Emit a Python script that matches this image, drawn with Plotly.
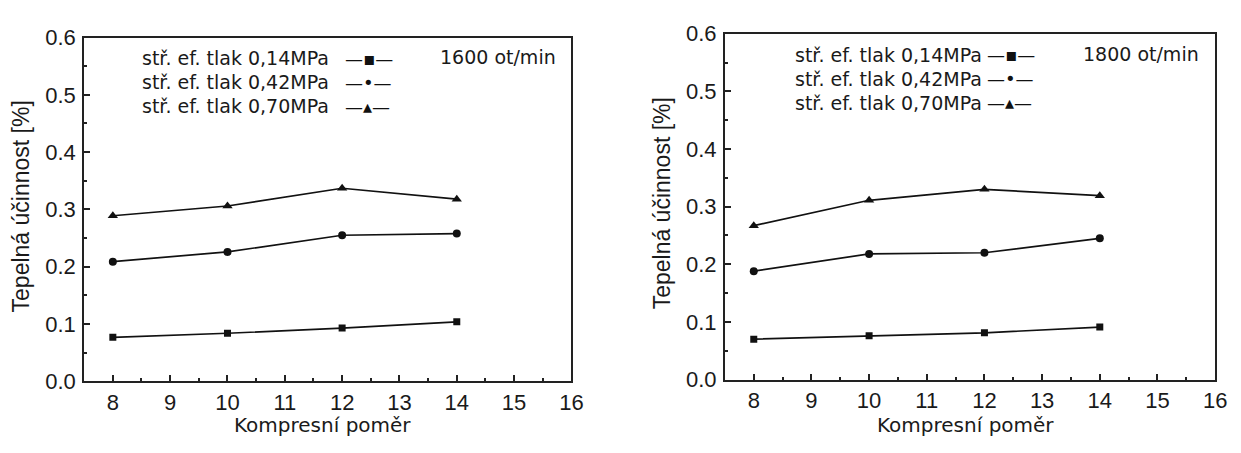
import plotly.graph_objects as go

# ---------------- data ----------------
ratio = [8, 10, 12, 14]
series_names = ["stř. ef. tlak 0,14MPa", "stř. ef. tlak 0,42MPa", "stř. ef. tlak 0,70MPa"]
symbols = ["square", "circle", "triangle-up"]
legend_glyphs = ["—▪—", "—•—", "—▴—"]

eff_1600_p014 = [0.077, 0.084, 0.093, 0.104]
eff_1600_p042 = [0.209, 0.226, 0.255, 0.258]
eff_1600_p070 = [0.289, 0.306, 0.337, 0.318]

eff_1800_p014 = [0.070, 0.076, 0.081, 0.091]
eff_1800_p042 = [0.188, 0.218, 0.220, 0.245]
eff_1800_p070 = [0.267, 0.311, 0.330, 0.319]

panel_labels = ["1600 ot/min", "1800 ot/min"]
x_title = "Kompresní poměr"
y_title = "Tepelná účinnost [%]"
x_ticks = [8, 9, 10, 11, 12, 13, 14, 15, 16]
y_ticks = [0.0, 0.1, 0.2, 0.3, 0.4, 0.5, 0.6]

panels = [
    [eff_1600_p014, eff_1600_p042, eff_1600_p070],
    [eff_1800_p014, eff_1800_p042, eff_1800_p070],
]

W, H = 1241, 453
# plot frames in pixels (left, right, top, bottom)
frames = [(85, 577, 27, 391), (732, 1227, 23, 389)]
marker_sizes = [7, 8, 9]

fig = go.Figure()

for p, series in enumerate(panels):
    xa = "x" if p == 0 else "x2"
    ya = "y" if p == 0 else "y2"
    for s, vals in enumerate(series):
        fig.add_trace(go.Scatter(
            x=ratio, y=vals, mode="lines+markers", xaxis=xa, yaxis=ya,
            line=dict(color="#111", width=1.7),
            marker=dict(symbol=symbols[s], size=marker_sizes[s], color="#111"),
            showlegend=False, name=series_names[s],
        ))

tickfont = dict(family="Liberation Sans, Arial", size=22, color="#1a1a1a")
text_font = dict(family="DejaVu Sans", size=19, color="#1a1a1a")

def xaxis_cfg(domain):
    return dict(domain=domain, range=[7.5, 16], tickvals=x_ticks, ticks="inside",
                ticklen=6, tickwidth=1.5, tickcolor="#222",
                minor=dict(ticks="inside", dtick=0.5, tick0=8, ticklen=3, tickwidth=1.5, tickcolor="#222"),
                showline=True, linewidth=2, linecolor="#222", mirror=True,
                showgrid=False, zeroline=False, tickfont=tickfont, fixedrange=True)

def yaxis_cfg(domain, anchor):
    return dict(domain=domain, range=[0, 0.6], tickvals=y_ticks, tickformat=".1f",
                ticks="inside", ticklen=6, tickwidth=1.5, tickcolor="#222",
                minor=dict(ticks="inside", dtick=0.05, tick0=0, ticklen=3, tickwidth=1.5, tickcolor="#222"),
                showline=True, linewidth=2, linecolor="#222", mirror=True,
                showgrid=False, zeroline=False, tickfont=tickfont, anchor=anchor,
                ticklabelstandoff=2, fixedrange=True)

doms = []
for (l, r, t, b) in frames:
    doms.append(([l / W, r / W], [1 - b / H, 1 - t / H]))

annotations = []
for p, (l, r, t, b) in enumerate(frames):
    cx = (l + r) / 2
    # x title
    annotations.append(dict(x=cx / W - 0.004, y=1 - 437 / H, xref="paper", yref="paper",
                            text=x_title, showarrow=False, font=dict(family="DejaVu Sans", size=20, color="#1a1a1a"),
                            xanchor="center", yanchor="middle"))
    # y title
    annotations.append(dict(x=(l - 64) / W, y=1 - ((t + b) / 2 - 3) / H, xref="paper", yref="paper",
                            text=y_title, showarrow=False, textangle=-90,
                            font=dict(family="Liberation Sans, Arial", size=23, color="#1a1a1a"),
                            xanchor="center", yanchor="middle"))
    # legend rows (text followed by line/marker sample)
    for s in range(3):
        yrow = t + 22 + 25.5 * s
        annotations.append(dict(x=(l + 249 if p == 0 else l + 262) / W, y=1 - yrow / H,
                                xref="paper", yref="paper", text=series_names[s],
                                showarrow=False, font=text_font, xanchor="right", yanchor="middle"))
        annotations.append(dict(x=(l + 261 if p == 0 else l + 263) / W, y=1 - yrow / H,
                                xref="paper", yref="paper", text=legend_glyphs[s],
                                showarrow=False, font=dict(family="DejaVu Sans", size=18, color="#111"),
                                xanchor="left", yanchor="middle"))
    # panel label
    annotations.append(dict(x=(r - 14) / W, y=1 - (t + 21) / H, xref="paper", yref="paper",
                            text=panel_labels[p], showarrow=False, font=text_font,
                            xanchor="right", yanchor="middle"))

fig.update_layout(
    width=W, height=H, margin=dict(l=0, r=0, t=0, b=0),
    paper_bgcolor="white", plot_bgcolor="white",
    xaxis=xaxis_cfg(doms[0][0]) | dict(anchor="y"),
    yaxis=yaxis_cfg(doms[0][1], "x"),
    xaxis2=xaxis_cfg(doms[1][0]) | dict(anchor="y2"),
    yaxis2=yaxis_cfg(doms[1][1], "x2"),
    annotations=annotations,
    showlegend=False,
)

fig.write_html("out.html", config={"displayModeBar": False})
